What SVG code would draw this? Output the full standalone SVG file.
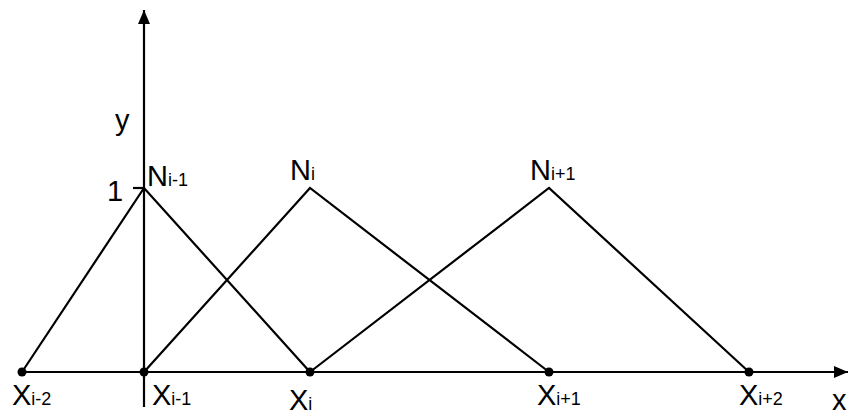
<svg xmlns="http://www.w3.org/2000/svg" width="848" height="415" viewBox="0 0 848 415">
<style>
.ln{stroke:#000;stroke-width:2.2;fill:none}
.t{font-family:"Liberation Sans",Arial,sans-serif;fill:#000}
.b{font-size:29px}
.s{font-size:18px}
.dot{fill:#000}
</style>
<defs>
<marker id="ah" markerWidth="14" markerHeight="12" refX="14" refY="6" orient="auto" markerUnits="userSpaceOnUse">
<path d="M0,0 L14,6 L0,12 Z" fill="#000"/>
</marker>
</defs>
<rect width="848" height="415" fill="#fff"/>
<g id="connectors">
<line class="ln" x1="144" y1="407" x2="144" y2="10" marker-end="url(#ah)"/>
<line class="ln" x1="22" y1="372" x2="848" y2="372" marker-end="url(#ah)"/>
<line class="ln" x1="133" y1="188" x2="144" y2="188"/>
<polyline class="ln" points="22,372 144,188 310,372"/>
<polyline class="ln" points="144,372 310,188 549,372"/>
<polyline class="ln" points="310,372 549,188 749,372"/>
</g>
<g id="axis-labels">
<text class="t b" x="115" y="130">y</text>
<text class="t b" x="107" y="201">1</text>
<text class="t b" x="832" y="410">x</text>
</g>
<g id="N-labels">
<text class="t" x="147" y="186"><tspan class="b">N</tspan><tspan class="s">i-1</tspan></text>
<text class="t" x="290" y="180"><tspan class="b">N</tspan><tspan class="s">i</tspan></text>
<text class="t" x="530" y="180"><tspan class="b">N</tspan><tspan class="s">i+1</tspan></text>
</g>
<g id="node-xim2"><circle class="dot" cx="22" cy="372" r="4.5"/><text class="t" x="12" y="405"><tspan class="b">X</tspan><tspan class="s">i-2</tspan></text></g>
<g id="node-xim1"><circle class="dot" cx="144" cy="372" r="4.5"/><text class="t" x="152" y="405"><tspan class="b">X</tspan><tspan class="s">i-1</tspan></text></g>
<g id="node-xi"><circle class="dot" cx="310" cy="372" r="4.5"/><text class="t" x="289" y="410"><tspan class="b">X</tspan><tspan class="s">i</tspan></text></g>
<g id="node-xip1"><circle class="dot" cx="549" cy="372" r="4.5"/><text class="t" x="537" y="405"><tspan class="b">X</tspan><tspan class="s">i+1</tspan></text></g>
<g id="node-xip2"><circle class="dot" cx="749" cy="372" r="4.5"/><text class="t" x="739" y="405"><tspan class="b">X</tspan><tspan class="s">i+2</tspan></text></g>
</svg>
